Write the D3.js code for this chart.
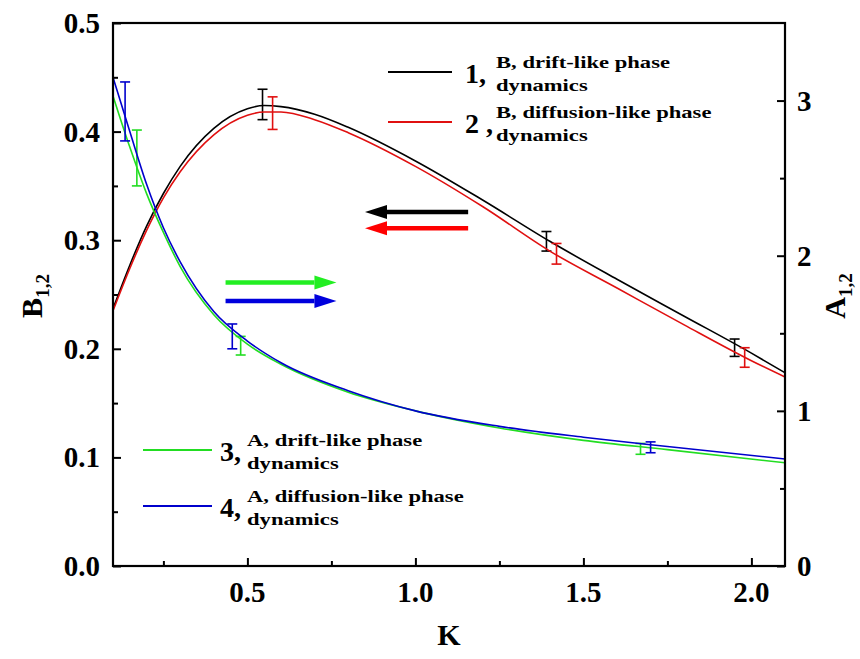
<!DOCTYPE html>
<html>
<head>
<meta charset="utf-8">
<script src="https://cdn.jsdelivr.net/npm/d3@7"></script>
<style>
body { margin: 0; background: #fff; }
text { font-family: "Liberation Serif", "Times New Roman", serif; font-weight: bold; }
</style>
</head>
<body>
<div id="chart"></div>
<script>
// K values and B curves (left axis)
var kB = [0.1, 0.15, 0.2, 0.25, 0.3, 0.4, 0.5, 0.55, 0.6, 0.7, 0.8, 1.0, 1.2, 1.4, 1.6, 1.8, 2.0, 2.1]
var b1 = [0.237, 0.277, 0.313, 0.343, 0.368, 0.403, 0.421, 0.424, 0.423, 0.416, 0.404, 0.373, 0.337, 0.299, 0.264, 0.230, 0.196, 0.178]
var b2 = [0.235, 0.274, 0.309, 0.339, 0.363, 0.397, 0.415, 0.418, 0.418, 0.411, 0.399, 0.368, 0.331, 0.290, 0.256, 0.222, 0.189, 0.174]

// K values and A curves (right axis)
var kA = [0.1, 0.15, 0.2, 0.25, 0.3, 0.4, 0.5, 0.6, 0.8, 1.0, 1.25, 1.5, 1.75, 2.1]
var a3 = [3.03, 2.70, 2.40, 2.15, 1.93, 1.62, 1.43, 1.30, 1.12, 1.00, 0.89, 0.81, 0.75, 0.665]
var a4 = [3.15, 2.80, 2.46, 2.18, 1.96, 1.64, 1.45, 1.31, 1.13, 1.00, 0.90, 0.83, 0.77, 0.69]

// error bars: k, low, high
var err1 = [[0.545, 0.411, 0.439], [1.39, 0.290, 0.308], [1.95, 0.193, 0.209]]
var err2 = [[0.575, 0.402, 0.432], [1.42, 0.278, 0.297], [1.98, 0.183, 0.201]]
var err3 = [[0.171, 2.45, 2.81], [0.48, 1.36, 1.48], [1.67, 0.72, 0.79]]
var err4 = [[0.136, 2.74, 3.12], [0.455, 1.40, 1.56], [1.70, 0.73, 0.80]]

var xTicks = [0.5, 1.0, 1.5, 2.0]
var bTicks = [0.0, 0.1, 0.2, 0.3, 0.4, 0.5]
var aTicks = [0, 1, 2, 3]

var legendNum = ["1,", "2 ,", "3,", "4,"]
var legendLine1 = ["B, drift-like phase", "B, diffusion-like phase", "A, drift-like phase", "A, diffusion-like phase"]
var legendLine2 = ["dynamics", "dynamics", "dynamics", "dynamics"]

var colors = ["#000000", "#e01010", "#22dd22", "#0000cc"]

var svgSize = { width: 860, height: 659 }
var plot = { left: 113, right: 785, top: 23, bottom: 566 }

var svg = d3.select("#chart").append("svg")
    .attr("width", svgSize.width)
    .attr("height", svgSize.height)

var xScale = d3.scaleLinear().domain([0.1, 2.1]).range([plot.left, plot.right])
var bScale = d3.scaleLinear().domain([0, 0.5]).range([plot.bottom, plot.top])
var aScale = d3.scaleLinear().domain([0, 3.5]).range([plot.bottom, plot.top])

// curves
var series = [
    { k: kB, v: b1, s: bScale, c: colors[0] },
    { k: kB, v: b2, s: bScale, c: colors[1] },
    { k: kA, v: a3, s: aScale, c: colors[2] },
    { k: kA, v: a4, s: aScale, c: colors[3] }
]
var errs = [err1, err2, err3, err4]

series.forEach((sr, i) => {
    var line = d3.line()
        .x((d, j) => xScale(sr.k[j]))
        .y(d => sr.s(d))
        .curve(d3.curveMonotoneX)
    svg.append("path")
        .attr("d", line(sr.v))
        .attr("fill", "none")
        .attr("stroke", sr.c)
        .attr("stroke-width", 1.6)

    var g = svg.append("g").attr("stroke", sr.c).attr("stroke-width", 1.6)
    errs[i].forEach(e => {
        var x = xScale(e[0])
        g.append("line").attr("x1", x).attr("x2", x).attr("y1", sr.s(e[1])).attr("y2", sr.s(e[2]))
        g.append("line").attr("x1", x - 5).attr("x2", x + 5).attr("y1", sr.s(e[1])).attr("y2", sr.s(e[1]))
        g.append("line").attr("x1", x - 5).attr("x2", x + 5).attr("y1", sr.s(e[2])).attr("y2", sr.s(e[2]))
    })
})

// axes (ticks inward)
var bottomAxis = d3.axisTop(xScale).tickValues(xTicks).tickSize(8).tickFormat("")
var bottomMinor = d3.axisTop(xScale).tickValues([0.25, 0.75, 1.25, 1.75]).tickSize(5).tickFormat("")
var leftAxis = d3.axisRight(bScale).tickValues(bTicks).tickSize(8).tickFormat("")
var leftMinor = d3.axisRight(bScale).tickValues([0.05, 0.15, 0.25, 0.35, 0.45]).tickSize(5).tickFormat("")
var rightAxis = d3.axisLeft(aScale).tickValues(aTicks).tickSize(8).tickFormat("")
var rightMinor = d3.axisLeft(aScale).tickValues([0.5, 1.5, 2.5]).tickSize(5).tickFormat("")

function styleAxis(g) {
    g.select(".domain").remove()
    g.selectAll("line").attr("stroke", "#000").attr("stroke-width", 2)
}
svg.append("g").attr("transform", `translate(0, ${plot.bottom})`).call(bottomAxis).call(styleAxis)
svg.append("g").attr("transform", `translate(0, ${plot.bottom})`).call(bottomMinor).call(styleAxis)
svg.append("g").attr("transform", `translate(${plot.left}, 0)`).call(leftAxis).call(styleAxis)
svg.append("g").attr("transform", `translate(${plot.left}, 0)`).call(leftMinor).call(styleAxis)
svg.append("g").attr("transform", `translate(${plot.right}, 0)`).call(rightAxis).call(styleAxis)
svg.append("g").attr("transform", `translate(${plot.right}, 0)`).call(rightMinor).call(styleAxis)

svg.append("rect")
    .attr("x", plot.left).attr("y", plot.top)
    .attr("width", plot.right - plot.left).attr("height", plot.bottom - plot.top)
    .attr("fill", "none").attr("stroke", "#000").attr("stroke-width", 2.2)

// tick labels
svg.selectAll(".xl").data(xTicks).enter().append("text")
    .attr("x", d => xScale(d)).attr("y", 602)
    .attr("text-anchor", "middle").attr("font-size", 29)
    .text(d => d.toFixed(1))
svg.selectAll(".bl").data(bTicks).enter().append("text")
    .attr("x", 100).attr("y", d => bScale(d) + 10)
    .attr("text-anchor", "end").attr("font-size", 29)
    .text(d => d.toFixed(1))
svg.selectAll(".al").data(aTicks).enter().append("text")
    .attr("x", 797).attr("y", d => aScale(d) + 10)
    .attr("font-size", 29)
    .text(d => d)

// axis titles
svg.append("text").attr("x", 449).attr("y", 645).attr("text-anchor", "middle").attr("font-size", 30).text("K")
var bt = svg.append("text").attr("transform", "translate(42, 296) rotate(-90)").attr("text-anchor", "middle").attr("font-size", 30)
bt.append("tspan").text("B")
bt.append("tspan").attr("font-size", 19).attr("dy", 7).text("1,2")
var at = svg.append("text").attr("transform", "translate(845, 296) rotate(-90)").attr("text-anchor", "middle").attr("font-size", 30)
at.append("tspan").text("A")
at.append("tspan").attr("font-size", 19).attr("dy", 7).text("1,2")

// legend
var legendPos = [
    { x1: 388, x2: 452, y: 72 },
    { x1: 388, x2: 452, y: 122 },
    { x1: 143, x2: 212, y: 450 },
    { x1: 143, x2: 212, y: 506 }
]
legendPos.forEach((p, i) => {
    svg.append("line").attr("x1", p.x1).attr("x2", p.x2).attr("y1", p.y).attr("y2", p.y)
        .attr("stroke", colors[i]).attr("stroke-width", 1.8)
    var tx = i < 2 ? 465 : 220
    svg.append("text").attr("x", tx).attr("y", p.y + 11).attr("font-size", 28)
        .text(legendNum[i])
    var sx = i < 2 ? 496 : 247
    svg.append("text").attr("transform", `translate(${sx}, ${p.y - 4}) scale(1.33, 1)`)
        .attr("font-size", 17).text(legendLine1[i])
    svg.append("text").attr("transform", `translate(${sx}, ${p.y + 19}) scale(1.33, 1)`)
        .attr("font-size", 17).text(legendLine2[i])
})

// direction arrows
var arrows = [
    { from: [1.157, 0.326], to: [0.85, 0.326], c: "#000000" },
    { from: [1.157, 0.311], to: [0.85, 0.311], c: "#ff0000" },
    { from: [0.435, 0.261], to: [0.765, 0.261], c: "#22ee22" },
    { from: [0.435, 0.244], to: [0.765, 0.244], c: "#0000dd" }
]
arrows.forEach(a => {
    var x1 = xScale(a.from[0]), x2 = xScale(a.to[0]), y = bScale(a.from[1])
    var dir = x2 > x1 ? 1 : -1
    var hx = x2 - dir * 22
    svg.append("line").attr("x1", x1).attr("x2", hx).attr("y1", y).attr("y2", y)
        .attr("stroke", a.c).attr("stroke-width", 4.5)
    svg.append("path")
        .attr("d", `M${x2},${y} L${hx},${y - 7} L${hx},${y + 7} Z`)
        .attr("fill", a.c)
})
</script>
</body>
</html>
